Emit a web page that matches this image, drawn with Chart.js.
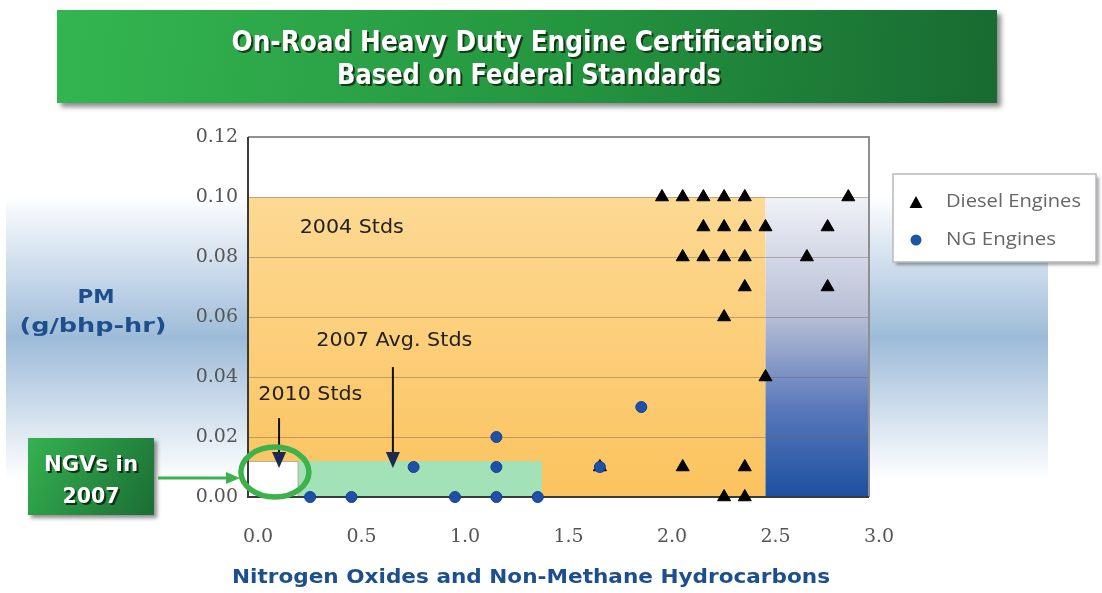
<!DOCTYPE html>
<html><head><meta charset="utf-8">
<script src="https://cdn.jsdelivr.net/npm/chart.js@4/dist/chart.umd.min.js"></script>
<style>html,body{margin:0;padding:0;background:#fff;overflow:hidden}canvas{display:block}</style>
</head><body>
<canvas id="c" width="1102" height="593"></canvas>
<script>
// ---- data ----
const xTicks = [0, 0.5, 1.0, 1.5, 2.0, 2.5, 3.0];
const yTicks = [0, 0.02, 0.04, 0.06, 0.08, 0.10, 0.12];

const dieselNOx = [2.0, 2.1, 2.2, 2.3, 2.4, 2.9,
                   2.2, 2.3, 2.4, 2.5, 2.8,
                   2.1, 2.2, 2.3, 2.4, 2.7,
                   2.4, 2.8,
                   2.3,
                   2.5,
                   1.7, 2.1, 2.4,
                   2.3, 2.4];
const dieselPM  = [0.10, 0.10, 0.10, 0.10, 0.10, 0.10,
                   0.09, 0.09, 0.09, 0.09, 0.09,
                   0.08, 0.08, 0.08, 0.08, 0.08,
                   0.07, 0.07,
                   0.06,
                   0.04,
                   0.01, 0.01, 0.01,
                   0.00, 0.00];
const ngNOx = [0.3, 0.5, 1.0, 1.2, 1.4, 0.8, 1.2, 1.7, 1.2, 1.9];
const ngPM  = [0.00, 0.00, 0.00, 0.00, 0.00, 0.01, 0.01, 0.01, 0.02, 0.03];

// standards regions [x0, x1, y0, y1]
const std2004 = [0, 2.5, 0, 0.10];
const stdAbove = [2.5, 3.0, 0, 0.10];
const std2007 = [0.24, 1.42, 0, 0.012];
const std2010 = [0, 0.24, 0, 0.012];

const titleLines = ['On-Road Heavy Duty Engine Certifications', 'Based on Federal Standards'];
const seriesNames = ['Diesel Engines', 'NG Engines'];

function toPts(xs, ys) { return xs.map((x, i) => ({x: x, y: ys[i]})); }

function fitText(ctx, text, x, y, width, font, color, align, shadow) {
  ctx.save();
  ctx.font = font;
  const w = ctx.measureText(text).width;
  const s = width / w;
  ctx.translate(x, y);
  ctx.scale(s, 1);
  ctx.textBaseline = 'middle';
  ctx.textAlign = align || 'center';
  if (shadow) {
    ctx.fillStyle = shadow;
    ctx.fillText(text, 2 / s, 2);
  }
  ctx.fillStyle = color;
  ctx.fillText(text, 0, 0);
  ctx.restore();
}

function arrowDown(ctx, x, y0, y1, color, headColor) {
  ctx.save();
  ctx.strokeStyle = color; ctx.lineWidth = 2;
  ctx.beginPath(); ctx.moveTo(x, y0); ctx.lineTo(x, y1 - 12); ctx.stroke();
  ctx.fillStyle = headColor;
  ctx.beginPath(); ctx.moveTo(x - 7, y1 - 16); ctx.lineTo(x + 7, y1 - 16); ctx.lineTo(x, y1); ctx.closePath(); ctx.fill();
  ctx.restore();
}

const decor = {
  id: 'decor',
  beforeDraw(chart) {
    const ctx = chart.ctx;
    const xs = chart.scales.x, ys = chart.scales.y, ca = chart.chartArea;
    ctx.save();
    ctx.fillStyle = '#ffffff';
    ctx.fillRect(0, 0, chart.width, chart.height);
    // blue band
    const g = ctx.createLinearGradient(0, 195, 0, 480);
    g.addColorStop(0, 'rgba(157,187,216,0)');
    g.addColorStop(0.5, 'rgba(157,187,216,1)');
    g.addColorStop(1, 'rgba(157,187,216,0)');
    ctx.fillStyle = g;
    ctx.fillRect(6, 195, 1042, 285);

    // title banner
    ctx.save();
    ctx.shadowColor = 'rgba(0,0,0,0.45)'; ctx.shadowBlur = 5; ctx.shadowOffsetX = 4; ctx.shadowOffsetY = 4;
    const tg = ctx.createLinearGradient(57, 10, 997, 104);
    tg.addColorStop(0, '#34b551');
    tg.addColorStop(0.55, '#24953f');
    tg.addColorStop(1, '#186a31');
    ctx.fillStyle = tg;
    ctx.fillRect(57, 10, 940, 93);
    ctx.restore();
    fitText(ctx, titleLines[0], 527, 44, 591, 'bold 28px "DejaVu Sans"', '#ffffff', 'center', 'rgba(20,40,20,0.85)');
    fitText(ctx, titleLines[1], 529, 77, 384, 'bold 28px "DejaVu Sans"', '#ffffff', 'center', 'rgba(20,40,20,0.85)');

    // plot background
    ctx.fillStyle = '#ffffff';
    ctx.fillRect(ca.left, ca.top, ca.right - ca.left, ca.bottom - ca.top);
    const rect = (r) => [xs.getPixelForValue(r[0]), ys.getPixelForValue(r[3]), xs.getPixelForValue(r[1]) - xs.getPixelForValue(r[0]), ys.getPixelForValue(r[2]) - ys.getPixelForValue(r[3])];
    let r = rect(std2004);
    const og = ctx.createLinearGradient(0, r[1], 0, r[1] + r[3]);
    og.addColorStop(0, '#fdd993'); og.addColorStop(1, '#fbc35e');
    ctx.fillStyle = og; ctx.fillRect(...r);
    r = rect(stdAbove);
    const bg = ctx.createLinearGradient(0, r[1], 0, r[1] + r[3]);
    bg.addColorStop(0, '#f1f2f7'); bg.addColorStop(0.4, '#b6bed5'); bg.addColorStop(0.7, '#5b79bb'); bg.addColorStop(1, '#1c50a0');
    ctx.fillStyle = bg; ctx.fillRect(...r);
    r = rect(std2007);
    ctx.fillStyle = '#a3e2b6'; ctx.fillRect(...r);
    r = rect(std2010);
    ctx.fillStyle = '#ffffff'; ctx.fillRect(...r);
    ctx.strokeStyle = '#b0b0b0'; ctx.lineWidth = 1;
    ctx.strokeRect(r[0] + 0.5, r[1] + 0.5, r[2], r[3]);
    ctx.restore();
  },
  beforeDatasetsDraw(chart) {
    const ctx = chart.ctx, ca = chart.chartArea;
    ctx.save();
    ctx.strokeStyle = '#8f8f8f'; ctx.lineWidth = 2;
    ctx.beginPath(); ctx.moveTo(ca.left, ca.top); ctx.lineTo(ca.right, ca.top); ctx.lineTo(ca.right, ca.bottom); ctx.stroke();
    ctx.strokeStyle = '#3a3a3a'; ctx.lineWidth = 2;
    ctx.beginPath(); ctx.moveTo(ca.left, ca.top); ctx.lineTo(ca.left, ca.bottom); ctx.lineTo(ca.right, ca.bottom); ctx.stroke();
    ctx.restore();
  },
  afterDatasetsDraw(chart) {
    const ctx = chart.ctx;
    const xs = chart.scales.x, ys = chart.scales.y;
    const px = v => xs.getPixelForValue(v), py = v => ys.getPixelForValue(v);
    // annotation labels
    fitText(ctx, '2004 Stds', px(0.25), py(0.0898), 104, '19px "DejaVu Sans"', '#222222', 'left');
    fitText(ctx, '2007 Avg. Stds', px(0.33), py(0.052), 156, '19px "DejaVu Sans"', '#222222', 'left');
    fitText(ctx, '2010 Stds', px(0.05), py(0.034), 104, '19px "DejaVu Sans"', '#222222', 'left');
    arrowDown(ctx, px(0.70), py(0.0433), py(0.0097), '#111111', '#1b2a4e');
    arrowDown(ctx, px(0.15), py(0.0263), py(0.0097), '#111111', '#1b2a4e');
    // green ellipse
    ctx.save();
    ctx.strokeStyle = '#3db24c'; ctx.lineWidth = 5.5;
    ctx.beginPath(); ctx.ellipse(px(0.13), py(0.0083), 34, 25, 0, 0, Math.PI * 2); ctx.stroke();
    ctx.restore();
  },
  afterDraw(chart) {
    const ctx = chart.ctx;
    // axis titles
    fitText(ctx, 'PM', 96, 298, 37, 'bold 20px "DejaVu Sans"', '#1d4f8e', 'center');
    fitText(ctx, '(g/bhp-hr)', 93, 327, 147, 'bold 20px "DejaVu Sans"', '#1d4f8e', 'center');
    fitText(ctx, 'Nitrogen Oxides and Non-Methane Hydrocarbons', 531, 578, 598, 'bold 20px "DejaVu Sans"', '#1d4f8e', 'center');

    // NGV box
    ctx.save();
    ctx.shadowColor = 'rgba(0,0,0,0.45)'; ctx.shadowBlur = 4; ctx.shadowOffsetX = 3; ctx.shadowOffsetY = 3;
    const ng = ctx.createLinearGradient(28, 438, 155, 515);
    ng.addColorStop(0, '#35b251'); ng.addColorStop(1, '#1a6d33');
    ctx.fillStyle = ng; ctx.fillRect(28, 438, 126, 77);
    ctx.restore();
    fitText(ctx, 'NGVs in', 91, 465, 94, 'bold 22px "DejaVu Sans"', '#ffffff', 'center', 'rgba(10,40,15,0.9)');
    fitText(ctx, '2007', 91, 497, 57, 'bold 22px "DejaVu Sans"', '#ffffff', 'center', 'rgba(10,40,15,0.9)');
    // NGV arrow
    ctx.save();
    ctx.strokeStyle = '#3db24c'; ctx.fillStyle = '#3db24c'; ctx.lineWidth = 3;
    ctx.beginPath(); ctx.moveTo(158, 478); ctx.lineTo(228, 478); ctx.stroke();
    ctx.beginPath(); ctx.moveTo(240, 478); ctx.lineTo(226, 472); ctx.lineTo(226, 484); ctx.closePath(); ctx.fill();
    ctx.restore();

    // legend
    ctx.save();
    ctx.shadowColor = 'rgba(0,0,0,0.35)'; ctx.shadowBlur = 3; ctx.shadowOffsetX = 3; ctx.shadowOffsetY = 3;
    ctx.fillStyle = '#ffffff'; ctx.fillRect(893, 174, 203, 88);
    ctx.restore();
    ctx.save();
    ctx.strokeStyle = '#b5b9c0'; ctx.lineWidth = 1.5; ctx.strokeRect(893, 174, 203, 88);
    ctx.fillStyle = '#000000';
    ctx.beginPath(); ctx.moveTo(916, 196); ctx.lineTo(922.5, 208); ctx.lineTo(909.5, 208); ctx.closePath(); ctx.fill();
    ctx.fillStyle = '#1e56a6';
    ctx.beginPath(); ctx.arc(916, 240, 5.5, 0, Math.PI * 2); ctx.fill();
    ctx.restore();
    fitText(ctx, seriesNames[0], 946, 202, 135, '18px "Open Sans"', '#666666', 'left');
    fitText(ctx, seriesNames[1], 946, 240, 110, '18px "Open Sans"', '#666666', 'left');
  }
};

new Chart(document.getElementById('c'), {
  type: 'scatter',
  data: {
    datasets: [
      { label: seriesNames[1], data: toPts(ngNOx, ngPM), order: 0, clip: false,
        pointStyle: 'circle', pointRadius: 5.5, backgroundColor: '#1e50a8', borderColor: '#17408c', borderWidth: 1 },
      { label: seriesNames[0], data: toPts(dieselNOx, dieselPM), order: 1, clip: false,
        pointStyle: 'triangle', pointRadius: 7.5, backgroundColor: '#000000', borderColor: '#000000', borderWidth: 1 }
    ]
  },
  options: {
    responsive: false,
    animation: false,
    events: [],
    layout: { padding: { left: 0, right: 233, top: 137, bottom: 0 } },
    plugins: { legend: { display: false }, tooltip: { enabled: false }, title: { display: false } },
    scales: {
      x: {
        type: 'linear', min: 0, max: 3,
        afterBuildTicks: s => { s.ticks = xTicks.map(v => ({ value: v })); },
        afterFit: s => { s.height = 96; },
        grid: { display: false, drawTicks: false },
        border: { display: false },
        ticks: { padding: 29, labelOffset: 10, color: '#555555', font: { family: '"DejaVu Serif"', size: 19 },
                 callback: v => v.toFixed(1), maxRotation: 0, autoSkip: false }
      },
      y: {
        type: 'linear', min: 0, max: 0.12,
        afterBuildTicks: s => { s.ticks = yTicks.map(v => ({ value: v })); },
        afterFit: s => { s.width = 248; },
        grid: { color: 'rgba(115,100,85,0.45)', lineWidth: 1, drawTicks: false },
        border: { display: false },
        ticks: { padding: 10, color: '#555555', font: { family: '"DejaVu Serif"', size: 19 },
                 callback: v => v.toFixed(2), autoSkip: false }
      }
    }
  },
  plugins: [decor]
});
</script>
</body></html>
